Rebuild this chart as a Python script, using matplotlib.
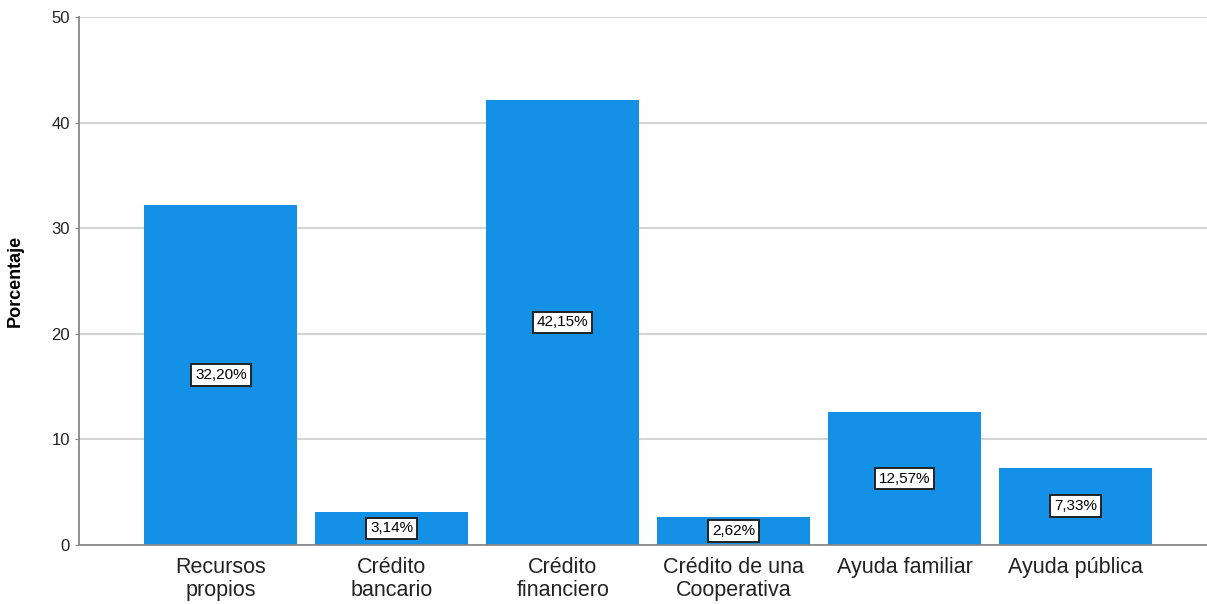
import matplotlib.pyplot as plt

# categorias y porcentajes
categorias = ["Recursos\npropios", "Crédito\nbancario", "Crédito\nfinanciero",
              "Crédito de una\nCooperativa", "Ayuda familiar", "Ayuda pública"]
porcentajes = [32.20, 3.14, 42.15, 2.62, 12.57, 7.33]
ticks_y = [0, 10, 20, 30, 40, 50]

plt.rcParams['font.family'] = ['Liberation Sans', 'DejaVu Sans']

fig = plt.figure(figsize=(12.07, 6.04), dpi=100)
ax = fig.add_axes([0.0655, 0.0977, 0.9345, 0.8742])

x = range(len(categorias))
ax.bar(x, porcentajes, width=0.895, color="#1491E6", zorder=2)

for i, v in zip(x, porcentajes):
    etiqueta = f"{v:.2f}%".replace(".", ",")
    ax.text(i, v / 2, etiqueta, ha="center", va="center", fontsize=11, zorder=3,
            bbox=dict(boxstyle="square,pad=0.25", fc="white", ec="#222222", lw=1.4))

ax.set_xlim(-0.83, 5.77)
ax.set_ylim(0, 50)
ax.set_yticks(ticks_y)
ax.set_xticks(list(x))
ax.set_xticklabels(categorias, fontsize=15.5, color="#222222", linespacing=1.1)
ax.tick_params(axis="x", length=0, pad=9)
ax.tick_params(axis="y", length=3, color="#888888", labelsize=12, labelcolor="#222222")

ax.grid(axis="y", color="#D4D4D4", lw=1.5, zorder=0)
for lado in ["top", "right"]:
    ax.spines[lado].set_visible(False)
ax.spines["left"].set_color("#888888")
ax.spines["bottom"].set_color("#888888")
ax.spines["left"].set_linewidth(1.3)
ax.spines["bottom"].set_linewidth(1.3)

ax.set_ylabel("Porcentaje", fontsize=13, fontweight="bold", labelpad=20)

plt.savefig("out.png", dpi=100)
